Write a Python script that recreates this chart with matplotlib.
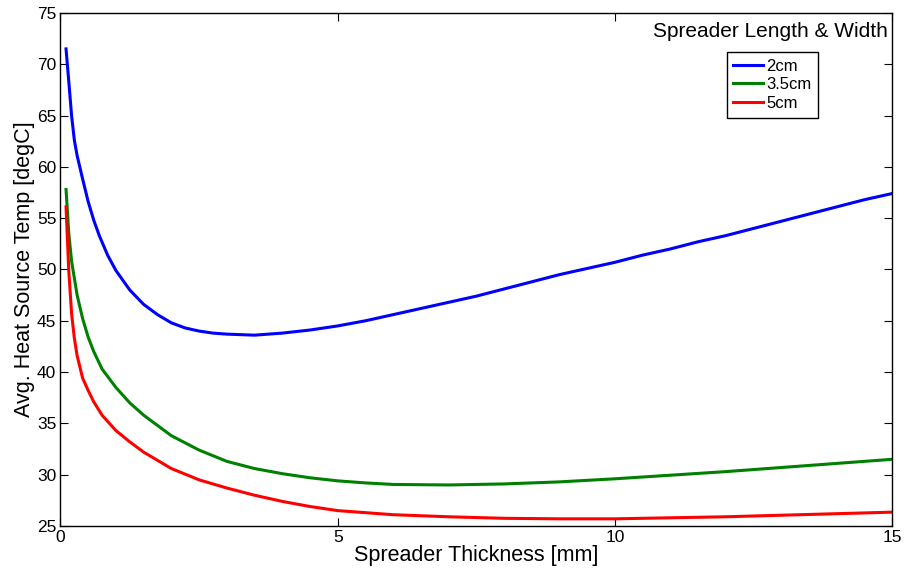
import matplotlib
matplotlib.use("Agg")
import matplotlib.pyplot as plt

plt.rcParams['font.family'] = ['Liberation Sans', 'DejaVu Sans']

# spreader thickness [mm] vs avg. heat source temperature [degC]
x_2cm = [0.1, 0.15, 0.2, 0.25, 0.3, 0.4, 0.5, 0.6, 0.7, 0.85, 1.0, 1.25, 1.5, 1.75, 2.0, 2.25,
         2.5, 2.75, 3.0, 3.5, 4.0, 4.5, 5.0, 5.5, 6.0, 6.5, 7.0, 7.5, 8.0, 8.5, 9.0, 9.5,
         10.0, 10.5, 11.0, 11.5, 12.0, 12.5, 13.0, 13.5, 14.0, 14.5, 15.0]
t_2cm = [71.5, 68.3, 65.0, 62.6, 61.1, 58.8, 56.6, 54.8, 53.3, 51.4, 49.9, 48.0, 46.6, 45.6, 44.8, 44.3,
         44.0, 43.8, 43.7, 43.6, 43.8, 44.1, 44.5, 45.0, 45.6, 46.2, 46.8, 47.4, 48.1, 48.8, 49.5, 50.1,
         50.7, 51.4, 52.0, 52.7, 53.3, 54.0, 54.7, 55.4, 56.1, 56.8, 57.4]

x_35cm = [0.1, 0.15, 0.2, 0.3, 0.4, 0.5, 0.6, 0.75, 1.0, 1.25, 1.5, 2.0, 2.5, 3.0, 3.5, 4.0,
          4.5, 5.0, 5.5, 6.0, 7.0, 8.0, 9.0, 10.0, 11.0, 12.0, 13.0, 14.0, 15.0]
t_35cm = [57.8, 53.5, 50.8, 47.5, 45.2, 43.4, 42.0, 40.3, 38.5, 37.0, 35.8, 33.8, 32.4, 31.3, 30.6, 30.1,
          29.7, 29.4, 29.2, 29.05, 29.0, 29.1, 29.3, 29.6, 29.95, 30.3, 30.7, 31.1, 31.5]

x_5cm = [0.1, 0.15, 0.2, 0.25, 0.3, 0.4, 0.5, 0.6, 0.75, 1.0, 1.25, 1.5, 2.0, 2.5, 3.0, 3.5,
         4.0, 4.5, 5.0, 5.5, 6.0, 7.0, 8.0, 9.0, 10.0, 11.0, 12.0, 13.0, 14.0, 15.0]
t_5cm = [56.1, 49.8, 45.7, 43.3, 41.6, 39.4, 38.2, 37.1, 35.8, 34.3, 33.2, 32.2, 30.6, 29.5, 28.7, 28.0,
         27.4, 26.9, 26.5, 26.3, 26.1, 25.9, 25.75, 25.7, 25.7, 25.8, 25.9, 26.05, 26.2, 26.35]

labels = ['2cm', '3.5cm', '5cm']

fig = plt.figure(figsize=(9.07, 5.8), dpi=100)
ax = fig.add_axes([0.0667, 0.0931, 0.9168, 0.8845])

ax.plot(x_2cm, t_2cm, color='#0000ff', lw=2.2, label=labels[0])
ax.plot(x_35cm, t_35cm, color='#008000', lw=2.2, label=labels[1])
ax.plot(x_5cm, t_5cm, color='#ff0000', lw=2.2, label=labels[2])

ax.set_xlim(0, 15)
ax.set_ylim(25, 75)
ax.set_xticks([0, 5, 10, 15])
ax.set_yticks(range(25, 80, 5))
ax.tick_params(direction='in', top=True, right=True, labelsize=12.5, length=5.5, width=0.8, pad=3)
for s in ax.spines.values():
    s.set_linewidth(1.0)

ax.set_xlabel('Spreader Thickness [mm]', fontsize=15.5, labelpad=0)
ax.set_ylabel('Avg. Heat Source Temp [degC]', fontsize=15.5, labelpad=1)

ax.text(0.995, 0.963, 'Spreader Length & Width', transform=ax.transAxes,
        ha='right', va='center', fontsize=15)
leg = ax.legend(loc='upper left', bbox_to_anchor=(0.801, 0.924), fontsize=12,
                frameon=True, fancybox=False, edgecolor='black', framealpha=1,
                handlelength=1.8, handletextpad=0.2, borderpad=0.4, labelspacing=0.22,
                borderaxespad=0)
leg.get_frame().set_linewidth(1.0)

fig.savefig('out.png', dpi=100)
